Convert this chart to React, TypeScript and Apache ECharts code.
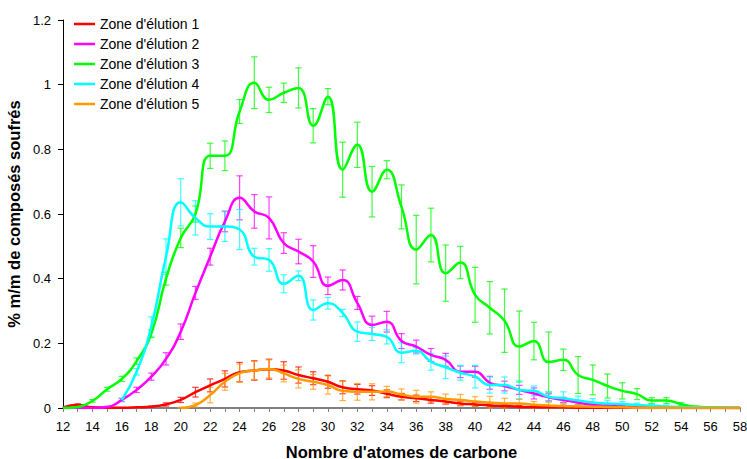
import React, { useEffect, useRef } from "react";
import * as echarts from "echarts";

// Carbon number (x axis)
const carbons = [
  12, 13, 14, 15, 16, 17, 18, 19, 20, 21, 22, 23, 24, 25, 26, 27, 28, 29, 30, 31, 32, 33, 34, 35,
  36, 37, 38, 39, 40, 41, 42, 43, 44, 45, 46, 47, 48, 49, 50, 51, 52, 53, 54, 55, 56, 57, 58,
];

const seriesNames = [
  "Zone d'élution 1",
  "Zone d'élution 2",
  "Zone d'élution 3",
  "Zone d'élution 4",
  "Zone d'élution 5",
];

const seriesColors = ["#ff0000", "#ff00ff", "#00ff00", "#00ffff", "#ff9900"];

// % m/m per carbon number, one array per elution zone (null = not measured)
const zone1 = [
  0.002, 0.009, 0.002, 0.001, 0.001, 0.002, 0.004, 0.011, 0.025, 0.049, 0.07, 0.09, 0.111, 0.116,
  0.12, 0.116, 0.102, 0.092, 0.081, 0.064, 0.058, 0.054, 0.044, 0.035, 0.03, 0.025, 0.02, 0.014,
  0.011, 0.008, 0.006, 0.004, 0.003, 0.002, 0.002, 0.001, 0.001, 0.001, 0.001, 0, 0, 0, 0, 0, 0, 0, 0,
];
const zone2 = [
  0, 0, 0, 0.003, 0.025, 0.056, 0.097, 0.152, 0.236, 0.356, 0.468, 0.577, 0.65, 0.608, 0.588, 0.51,
  0.484, 0.453, 0.378, 0.396, 0.325, 0.257, 0.267, 0.207, 0.19, 0.164, 0.149, 0.112, 0.112, 0.078,
  0.068, 0.056, 0.045, 0.033, 0.025, 0.017, 0.01, 0.007, 0.005, 0.003, 0.002, 0.001, 0.001, 0, 0, 0, 0,
];
const zone3 = [
  0, 0.003, 0.022, 0.058, 0.09, 0.145, 0.23, 0.4, 0.526, 0.6, 0.78, 0.78, 0.917, 1.006, 0.953, 0.975,
  0.99, 0.873, 0.963, 0.737, 0.814, 0.669, 0.737, 0.622, 0.49, 0.535, 0.417, 0.45, 0.35, 0.31, 0.27,
  0.19, 0.207, 0.142, 0.149, 0.102, 0.087, 0.068, 0.053, 0.043, 0.023, 0.023, 0.012, 0.004, 0.002,
  0.001, 0,
];
const zone4 = [
  null, null, null, null, 0.025, 0.112, 0.252, 0.468, 0.636, 0.588, 0.561, 0.561, 0.552, 0.468,
  0.458, 0.384, 0.409, 0.303, 0.324, 0.294, 0.236, 0.229, 0.22, 0.171, 0.177, 0.143, 0.126, 0.109,
  0.097, 0.071, 0.071, 0.056, 0.053, 0.035, 0.03, 0.023, 0.017, 0.014, 0.012, 0.009, 0.007, 0.005,
  0.003, 0.002, 0.001, 0.001, 0,
];
const zone5 = [
  null, null, null, null, null, null, null, null, 0, 0.009, 0.04, 0.081, 0.108, 0.116, 0.121, 0.107,
  0.09, 0.081, 0.071, 0.053, 0.05, 0.05, 0.051, 0.042, 0.035, 0.035, 0.028, 0.025, 0.02, 0.017,
  0.014, 0.014, 0.01, 0.008, 0.006, 0.005, 0.004, 0.003, 0.002, 0.001, 0.001, 0.001, 0, 0, 0, 0, 0,
];

// Standard deviation (± error bar half-length) per carbon number
const zone1Err = [
  0, 0.004, 0, 0, 0, 0, 0.002, 0.005, 0.008, 0.015, 0.02, 0.025, 0.03, 0.03, 0.031, 0.027, 0.025,
  0.02, 0.02, 0.02, 0.015, 0.015, 0.012, 0.01, 0.01, 0.01, 0.008, 0.007, 0.006, 0.005, 0.005, 0.004,
  0.003, 0.002, 0.002, 0.001, 0.001, 0.001, 0.001, 0, 0, 0, 0, 0, 0, 0, 0,
];
const zone2Err = [
  0, 0, 0, 0.002, 0.005, 0.008, 0.011, 0.019, 0.024, 0.02, 0.026, 0.032, 0.068, 0.052, 0.065, 0.032,
  0.038, 0.049, 0.027, 0.031, 0.02, 0.027, 0.032, 0.023, 0.02, 0.02, 0.02, 0.018, 0.017, 0.02, 0.015,
  0.014, 0.017, 0.011, 0.008, 0.006, 0.005, 0.004, 0.003, 0.002, 0.002, 0.001, 0.001, 0, 0, 0, 0,
];
const zone3Err = [
  0, 0.002, 0.004, 0.006, 0.008, 0.01, 0.012, 0.02, 0.03, 0.025, 0.039, 0.046, 0.037, 0.08, 0.039,
  0.03, 0.062, 0.053, 0.025, 0.085, 0.07, 0.078, 0.028, 0.068, 0.106, 0.083, 0.087, 0.05, 0.085,
  0.081, 0.098, 0.11, 0.058, 0.093, 0.033, 0.057, 0.046, 0.037, 0.025, 0.017, 0.009, 0.009, 0.005,
  0.002, 0.001, 0, 0,
];
const zone4Err = [
  null, null, null, null, 0.005, 0.01, 0.03, 0.055, 0.073, 0.053, 0.04, 0.046, 0.062, 0.026, 0.035,
  0.028, 0.015, 0.031, 0.018, 0.011, 0.03, 0.02, 0.022, 0.031, 0.01, 0.026, 0.035, 0.023, 0.035,
  0.025, 0.025, 0.028, 0.015, 0.015, 0.02, 0.014, 0.012, 0.01, 0.008, 0.006, 0.005, 0.004, 0.003,
  0.002, 0.001, 0, 0,
];
const zone5Err = [
  null, null, null, null, null, null, null, null, 0.002, 0.006, 0.024, 0.026, 0.028, 0.028, 0.028,
  0.026, 0.028, 0.023, 0.028, 0.03, 0.026, 0.025, 0.016, 0.017, 0.02, 0.015, 0.015, 0.017, 0.015,
  0.019, 0.016, 0.013, 0.01, 0.01, 0.007, 0.005, 0.004, 0.003, 0.002, 0.002, 0.001, 0.001, 0, 0, 0,
  0, 0,
];

const yTicks = [0, 0.2, 0.4, 0.6, 0.8, 1, 1.2];

const zones = [zone1, zone2, zone3, zone4, zone5];
const zoneErrs = [zone1Err, zone2Err, zone3Err, zone4Err, zone5Err];

const FONT = "'Liberation Sans', Arial, Helvetica, sans-serif";

function buildSeries(): any[] {
  const out: any[] = [];
  zones.forEach((vals, k) => {
    const color = seriesColors[k];
    const points = carbons
      .map((c, i) => (vals[i] == null ? null : [c, vals[i]]))
      .filter((p) => p !== null);
    out.push({
      name: seriesNames[k],
      type: "line",
      data: points,
      smooth: 0.5,
      symbol: "none",
      showSymbol: false,
      color,
      lineStyle: { color, width: 2.5 },
      z: 3,
    });
    const errs = zoneErrs[k];
    const errData = carbons
      .map((c, i) => (vals[i] == null ? null : [c, vals[i], errs[i] ?? 0]))
      .filter((p) => p !== null);
    out.push({
      name: seriesNames[k] + " (écart-type)",
      type: "custom",
      data: errData,
      encode: { x: 0, y: 1 },
      z: 3,
      silent: true,
      renderItem: (params: any, api: any) => {
        const x = api.value(0);
        const y = api.value(1);
        const e = api.value(2);
        if (!e) return { type: "group", children: [] };
        const top = api.coord([x, y + e]);
        const bot = api.coord([x, Math.max(0, y - e)]);
        const cap = 3.2;
        const style = { stroke: color, lineWidth: 1.2, opacity: 0.75 };
        return {
          type: "group",
          children: [
            { type: "line", shape: { x1: top[0], y1: top[1], x2: bot[0], y2: bot[1] }, style },
            { type: "line", shape: { x1: top[0] - cap, y1: top[1], x2: top[0] + cap, y2: top[1] }, style },
            { type: "line", shape: { x1: bot[0] - cap, y1: bot[1], x2: bot[0] + cap, y2: bot[1] }, style },
          ],
        };
      },
    });
  });
  return out;
}

export default function App() {
  const ref = useRef<HTMLDivElement>(null);

  useEffect(() => {
    document.body.style.margin = "0";
    if (!ref.current) return;
    const chart = echarts.init(ref.current, null, { renderer: "svg" });
    chart.setOption({
      animation: false,
      backgroundColor: "#ffffff",
      textStyle: { fontFamily: FONT },
      grid: {
        left: 63,
        right: 7,
        top: 20,
        bottom: 51,
        containLabel: false,
        outerBoundsMode: "none",
      },
      legend: {
        data: seriesNames,
        orient: "vertical",
        left: 69,
        top: 12,
        icon: "rect",
        itemWidth: 21,
        itemHeight: 2.5,
        itemGap: 6,
        textStyle: { fontFamily: FONT, fontSize: 14, color: "#000", lineHeight: 14 },
        selectedMode: false,
      },
      xAxis: {
        type: "value",
        min: carbons[0],
        max: carbons[carbons.length - 1],
        interval: 1,
        name: "Nombre d'atomes de carbone",
        nameLocation: "middle",
        nameGap: 35,
        nameTextStyle: { fontFamily: FONT, fontSize: 16.5, fontWeight: "bold", color: "#000" },
        axisLine: { show: true, lineStyle: { color: "#808080", width: 2 } },
        axisTick: { show: true, length: 4, lineStyle: { color: "#808080", width: 1 } },
        axisLabel: {
          margin: 12,
          fontFamily: FONT,
          fontSize: 13,
          color: "#000",
          formatter: (v: number) => (v % 2 === 0 ? String(v) : ""),
        },
        splitLine: { show: false },
      },
      yAxis: {
        type: "value",
        min: yTicks[0],
        max: yTicks[yTicks.length - 1],
        interval: 0.2,
        name: "% m/m de composés soufrés",
        nameLocation: "middle",
        nameGap: 36,
        nameRotate: 90,
        nameTextStyle: { fontFamily: FONT, fontSize: 16.5, fontWeight: "bold", color: "#000" },
        axisLine: { show: true, lineStyle: { color: "#000", width: 1 } },
        axisTick: { show: true, length: 5, lineStyle: { color: "#000", width: 1 } },
        axisLabel: {
          margin: 12,
          fontFamily: FONT,
          fontSize: 13,
          color: "#000",
          formatter: (v: number) => String(Math.round(v * 10) / 10),
        },
        splitLine: { show: false },
      },
      series: buildSeries(),
    });
    return () => chart.dispose();
  }, []);

  return (
    <div
      ref={ref}
      style={{ position: "fixed", left: 0, top: 0, width: 747, height: 459, background: "#fff" }}
    />
  );
}
